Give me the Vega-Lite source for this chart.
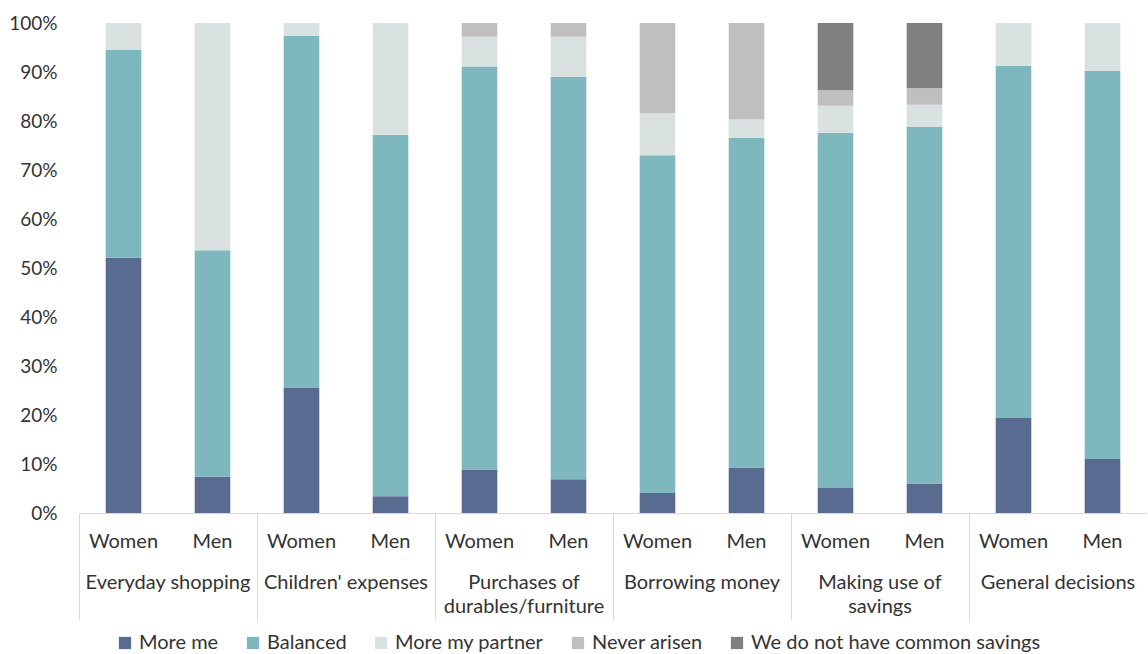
{
  "$schema": "https://vega.github.io/schema/vega-lite/v6.json",
  "padding": {"left": 8, "top": 14, "right": 0, "bottom": 0},
  "background": "white",
  "data": {
    "values": [
      {"category": "Everyday shopping", "gender": "Women", "response": "More me", "value": 52.1},
      {"category": "Everyday shopping", "gender": "Women", "response": "Balanced", "value": 42.4},
      {"category": "Everyday shopping", "gender": "Women", "response": "More my partner", "value": 5.5},
      {"category": "Everyday shopping", "gender": "Men", "response": "More me", "value": 7.4},
      {"category": "Everyday shopping", "gender": "Men", "response": "Balanced", "value": 46.2},
      {"category": "Everyday shopping", "gender": "Men", "response": "More my partner", "value": 46.4},
      {"category": "Children' expenses", "gender": "Women", "response": "More me", "value": 25.5},
      {"category": "Children' expenses", "gender": "Women", "response": "Balanced", "value": 71.9},
      {"category": "Children' expenses", "gender": "Women", "response": "More my partner", "value": 2.6},
      {"category": "Children' expenses", "gender": "Men", "response": "More me", "value": 3.4},
      {"category": "Children' expenses", "gender": "Men", "response": "Balanced", "value": 73.8},
      {"category": "Children' expenses", "gender": "Men", "response": "More my partner", "value": 22.8},
      {"category": "Purchases of durables/furniture", "gender": "Women", "response": "More me", "value": 8.9},
      {"category": "Purchases of durables/furniture", "gender": "Women", "response": "Balanced", "value": 82.2},
      {"category": "Purchases of durables/furniture", "gender": "Women", "response": "More my partner", "value": 6.1},
      {"category": "Purchases of durables/furniture", "gender": "Women", "response": "Never arisen", "value": 2.8},
      {"category": "Purchases of durables/furniture", "gender": "Men", "response": "More me", "value": 6.9},
      {"category": "Purchases of durables/furniture", "gender": "Men", "response": "Balanced", "value": 82.1},
      {"category": "Purchases of durables/furniture", "gender": "Men", "response": "More my partner", "value": 8.2},
      {"category": "Purchases of durables/furniture", "gender": "Men", "response": "Never arisen", "value": 2.8},
      {"category": "Borrowing money", "gender": "Women", "response": "More me", "value": 4.1},
      {"category": "Borrowing money", "gender": "Women", "response": "Balanced", "value": 68.9},
      {"category": "Borrowing money", "gender": "Women", "response": "More my partner", "value": 8.6},
      {"category": "Borrowing money", "gender": "Women", "response": "Never arisen", "value": 18.4},
      {"category": "Borrowing money", "gender": "Men", "response": "More me", "value": 9.3},
      {"category": "Borrowing money", "gender": "Men", "response": "Balanced", "value": 67.3},
      {"category": "Borrowing money", "gender": "Men", "response": "More my partner", "value": 3.7},
      {"category": "Borrowing money", "gender": "Men", "response": "Never arisen", "value": 19.7},
      {"category": "Making use of savings", "gender": "Women", "response": "More me", "value": 5.1},
      {"category": "Making use of savings", "gender": "Women", "response": "Balanced", "value": 72.5},
      {"category": "Making use of savings", "gender": "Women", "response": "More my partner", "value": 5.5},
      {"category": "Making use of savings", "gender": "Women", "response": "Never arisen", "value": 3.2},
      {"category": "Making use of savings", "gender": "Women", "response": "We do not have common savings", "value": 13.7},
      {"category": "Making use of savings", "gender": "Men", "response": "More me", "value": 6.0},
      {"category": "Making use of savings", "gender": "Men", "response": "Balanced", "value": 72.8},
      {"category": "Making use of savings", "gender": "Men", "response": "More my partner", "value": 4.5},
      {"category": "Making use of savings", "gender": "Men", "response": "Never arisen", "value": 3.4},
      {"category": "Making use of savings", "gender": "Men", "response": "We do not have common savings", "value": 13.3},
      {"category": "General decisions", "gender": "Women", "response": "More me", "value": 19.4},
      {"category": "General decisions", "gender": "Women", "response": "Balanced", "value": 71.9},
      {"category": "General decisions", "gender": "Women", "response": "More my partner", "value": 8.7},
      {"category": "General decisions", "gender": "Men", "response": "More me", "value": 11.0},
      {"category": "General decisions", "gender": "Men", "response": "Balanced", "value": 79.2},
      {"category": "General decisions", "gender": "Men", "response": "More my partner", "value": 9.8}
    ]
  },
  "transform": [
    {"calculate": "indexof(['More me', 'Balanced', 'More my partner', 'Never arisen', 'We do not have common savings'], datum.response)", "as": "stackOrder"}
  ],
  "facet": {
    "column": {
      "field": "category",
      "type": "nominal",
      "sort": ["Everyday shopping", "Children' expenses", "Purchases of durables/furniture", "Borrowing money", "Making use of savings", "General decisions"],
      "header": {
        "title": null,
        "labelOrient": "bottom",
        "labelFont": "Lato",
        "labelFontSize": 20,
        "labelColor": "#333333",
        "labelPadding": -48,
        "labelLineHeight": 24,
        "labelExpr": "datum.value == 'Purchases of durables/furniture' ? ['Purchases of', 'durables/furniture'] : datum.value == 'Making use of savings' ? ['Making use of', 'savings'] : datum.value"
      }
    }
  },
  "spacing": 0,
  "spec": {
    "width": 178,
    "height": 490,
    "mark": {"type": "bar"},
    "encoding": {
      "x": {
        "field": "gender",
        "type": "nominal",
        "sort": ["Women", "Men"],
        "scale": {"paddingInner": 0.6, "paddingOuter": 0.3},
        "axis": {
          "title": null,
          "labelAngle": 0,
          "labelFont": "Lato",
          "labelFontSize": 20,
          "labelColor": "#333333",
          "domainColor": "#d9d9d9",
          "domainWidth": 1,
          "tickColor": "#d9d9d9",
          "tickOpacity": {"condition": {"test": "datum.value === 'Women'", "value": 1}, "value": 0},
          "tickSize": 107,
          "bandPosition": -0.75,
          "labelPadding": -89
        }
      },
      "y": {
        "field": "value",
        "type": "quantitative",
        "stack": "zero",
        "scale": {"domain": [0, 100]},
        "axis": {
          "title": null,
          "values": [0, 10, 20, 30, 40, 50, 60, 70, 80, 90, 100],
          "labelExpr": "datum.value + '%'",
          "grid": false,
          "domain": false,
          "ticks": false,
          "labelPadding": 22,
          "labelFont": "Lato",
          "labelFontSize": 19,
          "labelColor": "#333333"
        }
      },
      "order": {"field": "stackOrder", "type": "quantitative", "sort": "ascending"},
      "color": {
        "field": "response",
        "type": "nominal",
        "sort": ["More me", "Balanced", "More my partner", "Never arisen", "We do not have common savings"],
        "scale": {
          "domain": ["More me", "Balanced", "More my partner", "Never arisen", "We do not have common savings"],
          "range": ["#5A6B92", "#7EB7BD", "#D9E2E0", "#BFBFBF", "#808080"]
        },
        "legend": {
          "title": null,
          "orient": "bottom",
          "direction": "horizontal",
          "symbolType": "square",
          "symbolSize": 150,
          "symbolStrokeWidth": 0,
          "labelFont": "Lato",
          "labelFontSize": 20,
          "labelColor": "#333333",
          "labelLimit": 400,
          "columnPadding": 24,
          "offset": 12
        }
      }
    }
  },
  "config": {
    "view": {"stroke": null},
    "font": "Lato",
    "legend": {"layout": {"bottom": {"anchor": "middle"}}}
  }
}
